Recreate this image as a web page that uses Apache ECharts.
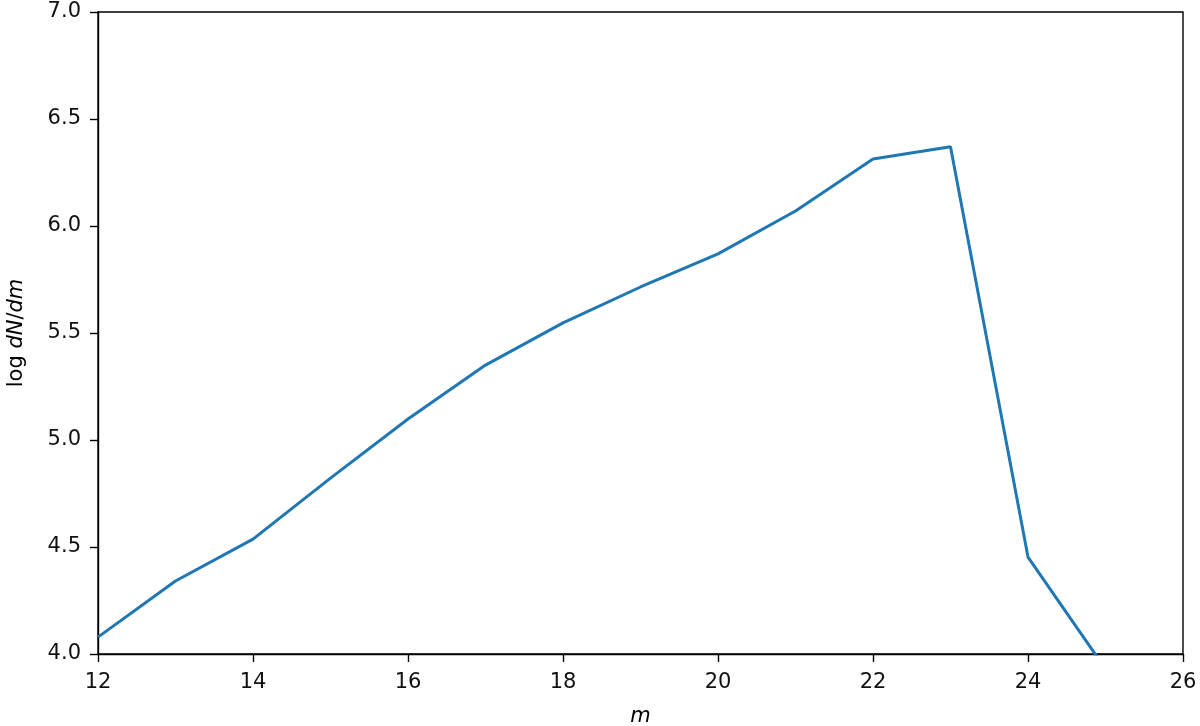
<!DOCTYPE html>
<html><head><meta charset="utf-8">
<script src="https://cdn.jsdelivr.net/npm/echarts@6/dist/echarts.min.js"></script>
<style>html,body{margin:0;padding:0;background:#fff}#c{width:1200px;height:726px}</style>
</head><body><div id="c"></div>
<script>
const magnitudes = [12, 13, 14, 15, 16, 17, 18, 19, 20, 21, 22, 23, 24, 25];
const logDNdm = [4.079, 4.341, 4.537, 4.822, 5.098, 5.35, 5.547, 5.715, 5.87, 6.07, 6.313, 6.37, 4.453, 3.93];
const xTicks = [12, 14, 16, 18, 20, 22, 24, 26];
const yTicks = [4.0, 4.5, 5.0, 5.5, 6.0, 6.5, 7.0];

const chart = echarts.init(document.getElementById('c'), null, {renderer: 'canvas'});
const font = 'DejaVu Sans';
chart.setOption({
  animation: false,
  grid: {left: 98, right: 17, top: 12, bottom: 72, containLabel: false, outerBoundsMode: 'none',
    show: true, borderColor: '#000', borderWidth: 1.4, backgroundColor: 'transparent'},
  xAxis: {
    type: 'value', min: 12, max: 26, interval: 2,
    name: 'm', nameLocation: 'middle', nameGap: 52,
    nameTextStyle: {fontFamily: font, fontSize: 21, fontStyle: 'italic', color: '#000'},
    axisLine: {show: true, lineStyle: {color: '#000', width: 1.4}},
    axisTick: {show: true, inside: false, length: 8, lineStyle: {color: '#000', width: 1.4}},
    axisLabel: {fontFamily: font, fontSize: 21, color: '#111', margin: 18,
      formatter: v => xTicks.includes(v) ? String(v) : ''},
    splitLine: {show: false}
  },
  yAxis: {
    type: 'value', min: 4.0, max: 7.0, interval: 0.5,
    name: '{n|log }{i|dN}{n|/}{i|dm}', nameLocation: 'middle', nameGap: 71, nameRotate: 90,
    nameTextStyle: {rich: {
      n: {fontFamily: font, fontSize: 21, color: '#000'},
      i: {fontFamily: font, fontSize: 21, fontStyle: 'italic', color: '#000'}
    }},
    axisLine: {show: true, lineStyle: {color: '#000', width: 1.4}},
    axisTick: {show: true, inside: false, length: 8, lineStyle: {color: '#000', width: 1.4}},
    axisLabel: {fontFamily: font, fontSize: 21, color: '#111', margin: 17,
      formatter: v => yTicks.some(t => Math.abs(t - v) < 1e-9) ? v.toFixed(1) : ''},
    splitLine: {show: false}
  },
  series: [{
    type: 'line',
    data: magnitudes.map((m, i) => [m, logDNdm[i]]),
    showSymbol: false,
    clip: true,
    lineStyle: {color: '#1f77b4', width: 3},
    itemStyle: {color: '#1f77b4'}
  }]
});
</script></body></html>
